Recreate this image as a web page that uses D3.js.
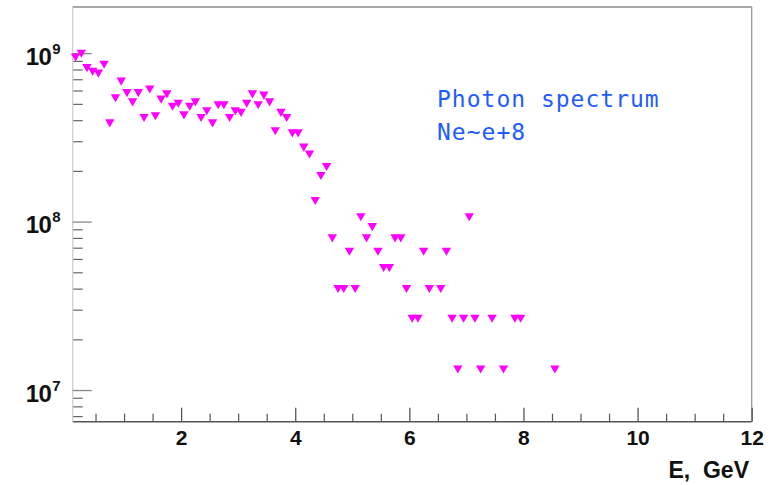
<!DOCTYPE html>
<html>
<head>
<meta charset="utf-8">
<script src="https://cdn.jsdelivr.net/npm/d3@7/dist/d3.min.js"></script>
<style>
html,body{margin:0;padding:0;background:#fff;}
svg{display:block;}
</style>
</head>
<body>
<svg id="chart" width="778" height="485"></svg>
<script>
// Energy bin centres (GeV)
const energy = [
  0.15,0.25,0.35,0.45,0.55,0.65,0.75,0.85,0.95,1.05,
  1.15,1.25,1.35,1.45,1.55,1.65,1.75,1.85,1.95,2.05,
  2.15,2.25,2.35,2.45,2.55,2.65,2.75,2.85,2.95,3.05,
  3.15,3.25,3.35,3.45,3.55,3.65,3.75,3.85,3.95,4.05,
  4.15,4.25,4.35,4.45,4.55,4.65,4.75,4.85,4.95,5.05,
  5.15,5.25,5.35,5.45,5.55,5.65,5.75,5.85,5.95,6.05,
  6.15,6.25,6.35,6.55,6.65,6.75,6.85,6.95,7.05,7.15,
  7.25,7.45,7.65,7.85,7.95,8.55
];
// Photon counts per bin
const counts = [
  9.6e8,1.01e9,8.3e8,7.9e8,7.7e8,8.7e8,3.9e8,5.5e8,6.9e8,5.9e8,
  5.2e8,5.9e8,4.2e8,6.2e8,4.3e8,5.4e8,5.8e8,4.9e8,5.1e8,4.35e8,
  4.9e8,5.2e8,4.2e8,4.6e8,3.9e8,5.0e8,5.0e8,4.2e8,4.6e8,4.5e8,
  5.1e8,5.8e8,5.0e8,5.7e8,5.2e8,3.5e8,4.5e8,4.2e8,3.4e8,3.4e8,
  2.8e8,2.55e8,1.35e8,1.9e8,2.15e8,8.1e7,4.05e7,4.05e7,6.75e7,4.05e7,
  1.08e8,8.1e7,9.45e7,6.75e7,5.4e7,5.4e7,8.1e7,8.1e7,4.05e7,2.7e7,
  2.7e7,6.75e7,4.05e7,4.05e7,6.75e7,2.7e7,1.35e7,2.7e7,1.08e8,2.7e7,
  1.35e7,2.7e7,1.35e7,2.7e7,2.7e7,1.35e7
];
const xMajorTicks = [2,4,6,8,10,12];
const yMajorTicks = [1e7,1e8,1e9];
const yTickExponents = ["7","8","9"];
const titleLines = ["Photon spectrum","Ne~e+8"];
const xAxisTitle = "E,  GeV";

const svg = d3.select("#chart");
const L = 72.7, R = 751.7, T = 7, B = 421.7;

const x = d3.scaleLinear().domain([0.1, 12]).range([L, R]);
const y = d3.scaleLog().domain([Math.pow(10,6.812), Math.pow(10,9.274)]).range([B, T]);

// frame
svg.append("line").attr("x1",L).attr("x2",R).attr("y1",T).attr("y2",T).attr("stroke","#8a8a8a").attr("stroke-width",1.3);
svg.append("line").attr("x1",R).attr("x2",R).attr("y1",T).attr("y2",B).attr("stroke","#9a9a9a").attr("stroke-width",1.3);

// x minor ticks
const xMinor = d3.range(0.5, 12, 0.5).filter(v => Math.abs(v/2 - Math.round(v/2)) > 1e-6);
const xMinorAxis = d3.axisBottom(x).tickValues(xMinor).tickSize(-8).tickFormat("");
const gxm = svg.append("g").attr("transform",`translate(0,${B})`).call(xMinorAxis);
gxm.select(".domain").remove();
gxm.selectAll(".tick line").attr("stroke","#555").attr("stroke-width",1.2);

// x major
const xAxis = d3.axisBottom(x).tickValues(xMajorTicks).tickSize(-14).tickPadding(23).tickFormat(d3.format("d"));
const gx = svg.append("g").attr("transform",`translate(0,${B})`).call(xAxis);
gx.select(".domain").attr("d",`M${L},0H${R}`).attr("stroke","#555").attr("stroke-width",1.4);
gx.selectAll(".tick line").attr("stroke","#555").attr("stroke-width",1.3);
gx.selectAll(".tick text").attr("fill","#111").attr("font-family","Liberation Sans, Arial, sans-serif")
  .attr("font-weight","bold").attr("font-size",21).attr("dy","0");

// y minor ticks
const yMinor = [];
[6,7,8].forEach(e => { for (let k=2;k<=9;k++){ const v=k*Math.pow(10,e); if (v>=y.domain()[0] && v<=y.domain()[1]) yMinor.push(v);} });
const yMinorAxis = d3.axisLeft(y).tickValues(yMinor).tickSize(-10).tickFormat("");
const gym = svg.append("g").attr("transform",`translate(${L},0)`).call(yMinorAxis);
gym.select(".domain").remove();
gym.selectAll(".tick line").attr("stroke","#666").attr("stroke-width",1.2);

// y major
const yAxis = d3.axisLeft(y).tickValues(yMajorTicks).tickSize(-19).tickFormat("");
const gy = svg.append("g").attr("transform",`translate(${L},0)`).call(yAxis);
gy.select(".domain").attr("d",`M0,${T}V${B}`).attr("stroke","#cfcfcf").attr("stroke-width",1.3);
gy.selectAll(".tick line").attr("stroke","#888").attr("stroke-width",1.3);
gy.selectAll(".tick").each(function(d,i){
  const t = d3.select(this).append("text").attr("fill","#111")
    .attr("font-family","Liberation Sans, Arial, sans-serif").attr("font-weight","bold")
    .attr("text-anchor","end").attr("x",-12).attr("y",11);
  t.append("tspan").attr("font-size",24).attr("letter-spacing",-0.5).text("10");
  t.append("tspan").attr("font-size",15).attr("dx",1).attr("dy",-11).text(yTickExponents[i]);
});

// markers
const sym = d3.symbol().type(d3.symbolTriangle).size(38);
svg.append("g").selectAll("path").data(energy.map((e,i)=>({e, c:counts[i]})))
  .join("path")
  .attr("d", sym)
  .attr("transform", d => `translate(${x(d.e)},${y(d.c)}) rotate(180)`)
  .attr("fill","#ff00ff");

// title text
const tg = svg.append("g").attr("font-family","DejaVu Sans Mono, monospace").attr("font-size",23)
  .attr("fill","#1f5cff").attr("letter-spacing",1);
tg.selectAll("text").data(titleLines).join("text")
  .attr("x",437).attr("y",(d,i)=>107+i*33).text(d=>d);

// x axis title
svg.append("text").attr("x",749).attr("y",478).attr("text-anchor","end")
  .attr("font-family","Liberation Sans, Arial, sans-serif").attr("font-weight","bold")
  .attr("font-size",23).attr("fill","#111").style("white-space","pre").text(xAxisTitle);
</script>
</body>
</html>
